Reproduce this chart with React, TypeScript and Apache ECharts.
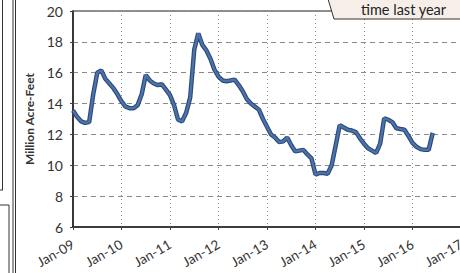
import React, { useEffect, useRef } from "react";
import * as echarts from "echarts";

const xTickLabels = ["Jan-09", "Jan-10", "Jan-11", "Jan-12", "Jan-13", "Jan-14", "Jan-15", "Jan-16", "Jan-17"];

// monthly storage, Jan-09 .. Jun-16 (million acre-feet)
const storage2009 = [13.55, 13.15, 12.85, 12.75, 12.8, 14.6, 16.0, 16.15, 15.6, 15.3, 15.0, 14.6];
const storage2010 = [14.15, 13.8, 13.7, 13.7, 13.9, 14.6, 15.85, 15.5, 15.3, 15.2, 15.25, 14.9];
const storage2011 = [14.55, 13.9, 12.95, 12.85, 13.4, 14.4, 17.5, 18.55, 17.8, 17.45, 16.9, 16.2];
const storage2012 = [15.75, 15.5, 15.45, 15.5, 15.55, 15.2, 14.8, 14.3, 14.0, 13.8, 13.6, 13.0];
const storage2013 = [12.5, 12.0, 11.8, 11.5, 11.55, 11.8, 11.3, 10.9, 10.95, 11.0, 10.7, 10.45];
const storage2014 = [9.4, 9.5, 9.5, 9.45, 10.0, 11.3, 12.6, 12.45, 12.3, 12.25, 12.15, 11.75];
const storage2015 = [11.4, 11.1, 10.95, 10.8, 11.4, 13.05, 12.95, 12.8, 12.4, 12.35, 12.3, 11.9];
const storage2016 = [11.45, 11.2, 11.05, 11.0, 11.0, 12.1];

const storage = [
  ...storage2009, ...storage2010, ...storage2011, ...storage2012,
  ...storage2013, ...storage2014, ...storage2015, ...storage2016,
];

const yAxisTitle = "Million Acre-Feet";
const calloutText = "time last year";

export default function App() {
  const ref = useRef<HTMLDivElement>(null);
  useEffect(() => {
    if (!ref.current) return;
    const chart = echarts.init(ref.current, null, { renderer: "svg" });
    const font = "Lato, 'Open Sans', sans-serif";
    chart.setOption({
      animation: false,
      backgroundColor: "#ffffff",
      textStyle: { fontFamily: font },
      grid: {
        left: 73, top: 11, width: 388, height: 216,
        show: true, borderColor: "#222", borderWidth: 1.2,
        containLabel: false, outerBoundsMode: "none",
      },
      xAxis: {
        type: "value", min: 0, max: 96, interval: 12,
        axisLine: { show: true, onZero: false, lineStyle: { color: "#222", width: 1.5 } },
        axisTick: { show: true, length: 3, lineStyle: { color: "#444" } },
        axisLabel: {
          rotate: 30, fontSize: 13.5, color: "#333", margin: 16, fontFamily: font,
          formatter: (v: number) => xTickLabels[Math.round(v / 12)] ?? "",
        },
        splitLine: { show: true, lineStyle: { color: "#8f8f8f", type: [1, 3], width: 1 } },
      },
      yAxis: {
        type: "value", min: 6, max: 20, interval: 2,
        name: yAxisTitle, nameLocation: "middle", nameGap: 37, nameRotate: 90,
        nameTextStyle: { fontSize: 12, fontWeight: "bold", color: "#333", fontFamily: font },
        axisLine: { show: true, lineStyle: { color: "#222", width: 1.5 } },
        axisTick: { show: true, length: 3, lineStyle: { color: "#444" } },
        axisLabel: { fontSize: 14, color: "#333", margin: 10, fontFamily: font },
        splitLine: { show: true, lineStyle: { color: "#8a8a8a", type: [5, 4], width: 1 } },
      },
      series: [
        {
          type: "line",
          data: storage.map((v, i) => [i, v]),
          showSymbol: false,
          smooth: false,
          lineStyle: { color: "#2f4a78", width: 4.5 },
          z: 3,
        },
        {
          type: "line",
          data: storage.map((v, i) => [i, v]),
          showSymbol: false,
          smooth: false,
          lineStyle: { color: "#4b74ad", width: 2.2 },
          z: 4,
        },
      ],
      graphic: [
        { type: "line", shape: { x1: 2.5, y1: 0, x2: 2.5, y2: 190 }, style: { stroke: "#333", lineWidth: 1 } },
        { type: "line", shape: { x1: 0, y1: 190, x2: 3, y2: 190 }, style: { stroke: "#333", lineWidth: 1 } },
        { type: "line", shape: { x1: 0, y1: 205, x2: 9, y2: 205 }, style: { stroke: "#333", lineWidth: 1 } },
        { type: "line", shape: { x1: 9, y1: 205, x2: 9, y2: 273 }, style: { stroke: "#333", lineWidth: 1 } },
        { type: "line", shape: { x1: 13, y1: 0, x2: 13, y2: 273 }, style: { stroke: "#333", lineWidth: 1 } },
        { type: "line", shape: { x1: 15.5, y1: 0, x2: 15.5, y2: 273 }, style: { stroke: "#333", lineWidth: 1 } },
        {
          type: "polygon",
          shape: { points: [[328, -1], [461, -1], [461, 19], [334, 19]] },
          style: { fill: "#f6efe9", stroke: "#333", lineWidth: 1 },
          z: 10,
        },
        {
          type: "text", x: 361, y: 2, z: 11,
          style: { text: calloutText, fontSize: 14.5, fill: "#222", fontFamily: font },
        },
      ],
    });
    return () => chart.dispose();
  }, []);
  return <div ref={ref} style={{ position: "fixed", left: 0, top: 0, width: 460, height: 273 }} />;
}
